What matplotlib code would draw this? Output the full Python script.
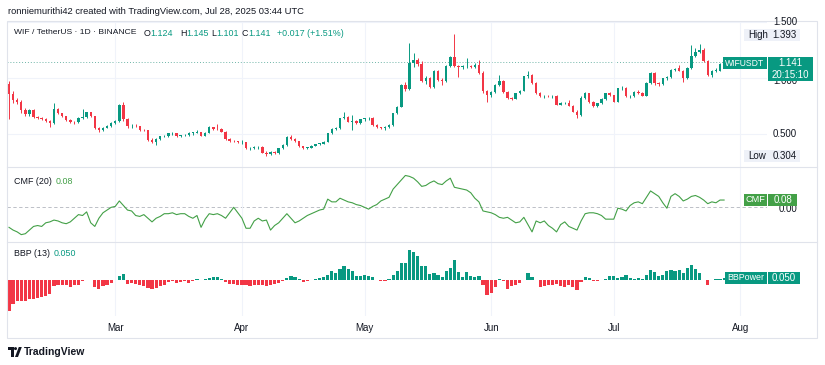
import numpy as np
import pandas as pd
import matplotlib
matplotlib.use("Agg")
import matplotlib.pyplot as plt
import matplotlib.dates as mdates
from matplotlib.patches import Rectangle, Circle, Polygon
from matplotlib.lines import Line2D

# ---- data ----
dates = pd.date_range("2025-02-03", "2025-07-28", freq="D")

opens = [
    0.95, 0.86, 0.80, 0.79, 0.71, 0.675, 0.714, 0.648, 0.64, 0.635, 0.615, 0.597, 0.72, 0.685, 0.66, 0.628,
    0.61, 0.603, 0.645, 0.65, 0.695, 0.66, 0.55, 0.537, 0.555, 0.575, 0.60, 0.615, 0.755, 0.63, 0.57, 0.575,
    0.568, 0.536, 0.535, 0.446, 0.43, 0.458, 0.478, 0.48, 0.505, 0.506, 0.478, 0.488, 0.495, 0.51, 0.512, 0.515,
    0.485, 0.512, 0.559, 0.548, 0.542, 0.521, 0.455, 0.437, 0.435, 0.425, 0.428, 0.372, 0.378, 0.38, 0.387, 0.333,
    0.321, 0.338, 0.33, 0.372, 0.402, 0.47, 0.458, 0.437, 0.39, 0.375, 0.378, 0.396, 0.412, 0.415, 0.43, 0.506,
    0.542, 0.553, 0.64, 0.655, 0.61, 0.615, 0.595, 0.63, 0.64, 0.645, 0.58, 0.56, 0.555, 0.565, 0.58, 0.685,
    0.745, 0.935, 0.90, 1.135, 1.165, 1.125, 0.975, 1.0, 0.92, 1.06, 0.985, 0.97, 1.107, 1.19, 1.107, 1.10,
    1.105, 1.11, 1.10, 1.113, 1.045, 0.881, 0.851, 0.875, 0.94, 0.97, 0.875, 0.821, 0.815, 0.866, 0.887, 1.015,
    1.03, 0.955, 0.866, 0.836, 0.84, 0.835, 0.838, 0.762, 0.775, 0.78, 0.753, 0.70, 0.67, 0.825, 0.863, 0.789,
    0.752, 0.774, 0.813, 0.863, 0.845, 0.79, 0.908, 0.91, 0.835, 0.839, 0.878, 0.87, 0.84, 0.952, 1.042, 0.952,
    0.943, 0.997, 1.012, 1.071, 1.086, 1.063, 0.997, 1.086, 1.199, 1.235, 1.25, 1.152, 1.027, 1.063, 1.065, 1.124,
]
highs = [
    0.97, 0.88, 0.82, 0.80, 0.73, 0.72, 0.72, 0.66, 0.65, 0.64, 0.625, 0.78, 0.73, 0.69, 0.665, 0.635,
    0.62, 0.65, 0.72, 0.70, 0.70, 0.665, 0.56, 0.56, 0.58, 0.605, 0.625, 0.77, 0.79, 0.64, 0.59, 0.585,
    0.575, 0.545, 0.54, 0.46, 0.465, 0.485, 0.49, 0.51, 0.515, 0.51, 0.495, 0.50, 0.515, 0.52, 0.536, 0.52,
    0.515, 0.571, 0.565, 0.59, 0.55, 0.525, 0.46, 0.445, 0.44, 0.45, 0.43, 0.385, 0.39, 0.395, 0.39, 0.345,
    0.345, 0.35, 0.375, 0.41, 0.48, 0.49, 0.465, 0.44, 0.395, 0.385, 0.40, 0.415, 0.42, 0.435, 0.51, 0.55,
    0.56, 0.645, 0.70, 0.66, 0.67, 0.625, 0.635, 0.645, 0.65, 0.655, 0.59, 0.565, 0.57, 0.59, 0.69, 0.75,
    0.95, 0.96, 1.31, 1.22, 1.18, 1.15, 1.02, 1.01, 1.07, 1.075, 1.0, 1.12, 1.20, 1.393, 1.12, 1.12,
    1.18, 1.12, 1.13, 1.16, 1.06, 0.89, 0.88, 0.95, 1.03, 0.98, 0.88, 0.83, 0.87, 0.89, 1.02, 1.065,
    1.04, 0.96, 0.875, 0.85, 0.85, 0.845, 0.845, 0.785, 0.79, 0.80, 0.76, 0.71, 0.835, 0.875, 0.87, 0.795,
    0.78, 0.82, 0.87, 0.875, 0.85, 0.915, 0.925, 0.92, 0.85, 0.885, 0.89, 0.875, 0.96, 1.055, 1.05, 0.965,
    1.0, 1.02, 1.08, 1.09, 1.12, 1.07, 1.10, 1.295, 1.27, 1.30, 1.265, 1.16, 1.075, 1.085, 1.13, 1.145,
]
lows = [
    0.63, 0.78, 0.77, 0.69, 0.66, 0.66, 0.64, 0.63, 0.625, 0.61, 0.565, 0.59, 0.68, 0.65, 0.62, 0.60,
    0.59, 0.60, 0.635, 0.645, 0.65, 0.545, 0.52, 0.53, 0.55, 0.565, 0.59, 0.61, 0.62, 0.555, 0.555, 0.56,
    0.53, 0.525, 0.44, 0.42, 0.40, 0.45, 0.47, 0.475, 0.495, 0.47, 0.47, 0.48, 0.485, 0.495, 0.505, 0.48,
    0.48, 0.505, 0.54, 0.535, 0.515, 0.45, 0.43, 0.425, 0.42, 0.415, 0.365, 0.36, 0.37, 0.37, 0.33, 0.304,
    0.315, 0.325, 0.325, 0.365, 0.395, 0.45, 0.43, 0.385, 0.37, 0.365, 0.372, 0.39, 0.405, 0.41, 0.425, 0.50,
    0.535, 0.545, 0.63, 0.605, 0.54, 0.59, 0.59, 0.62, 0.625, 0.575, 0.555, 0.545, 0.535, 0.555, 0.575, 0.68,
    0.74, 0.88, 0.89, 1.10, 1.11, 0.96, 0.95, 0.91, 0.915, 0.97, 0.94, 0.96, 1.10, 1.10, 1.01, 1.08,
    1.09, 1.09, 1.09, 1.04, 0.87, 0.79, 0.83, 0.87, 0.93, 0.87, 0.81, 0.80, 0.81, 0.855, 0.88, 1.0,
    0.95, 0.86, 0.83, 0.825, 0.83, 0.825, 0.755, 0.755, 0.765, 0.75, 0.695, 0.645, 0.665, 0.815, 0.78, 0.745,
    0.745, 0.77, 0.805, 0.835, 0.785, 0.785, 0.895, 0.83, 0.825, 0.83, 0.86, 0.835, 0.835, 0.945, 0.94, 0.925,
    0.935, 0.985, 1.0, 1.06, 1.06, 0.967, 0.99, 1.08, 1.19, 1.22, 1.14, 1.02, 1.01, 1.05, 1.06, 1.101,
]
closes = [
    0.86, 0.80, 0.79, 0.71, 0.675, 0.714, 0.648, 0.64, 0.635, 0.615, 0.597, 0.72, 0.685, 0.66, 0.628, 0.61,
    0.603, 0.645, 0.65, 0.695, 0.66, 0.55, 0.537, 0.555, 0.575, 0.60, 0.615, 0.755, 0.63, 0.57, 0.575, 0.568,
    0.536, 0.535, 0.446, 0.43, 0.458, 0.478, 0.48, 0.505, 0.506, 0.478, 0.488, 0.495, 0.51, 0.512, 0.515, 0.485,
    0.512, 0.559, 0.548, 0.542, 0.521, 0.455, 0.437, 0.435, 0.425, 0.428, 0.372, 0.378, 0.38, 0.387, 0.333, 0.321,
    0.338, 0.33, 0.372, 0.402, 0.47, 0.458, 0.437, 0.39, 0.375, 0.378, 0.396, 0.412, 0.415, 0.43, 0.506, 0.542,
    0.553, 0.64, 0.655, 0.61, 0.615, 0.595, 0.63, 0.64, 0.645, 0.58, 0.56, 0.555, 0.565, 0.58, 0.685, 0.745,
    0.935, 0.90, 1.135, 1.165, 1.125, 0.975, 1.0, 0.92, 1.06, 0.985, 0.97, 1.107, 1.19, 1.107, 1.10, 1.105,
    1.11, 1.10, 1.113, 1.045, 0.881, 0.851, 0.875, 0.94, 0.97, 0.875, 0.821, 0.815, 0.866, 0.887, 1.015, 1.03,
    0.955, 0.866, 0.836, 0.84, 0.835, 0.838, 0.762, 0.775, 0.78, 0.753, 0.70, 0.67, 0.825, 0.863, 0.789, 0.752,
    0.774, 0.813, 0.863, 0.845, 0.79, 0.908, 0.91, 0.835, 0.839, 0.878, 0.87, 0.84, 0.952, 1.042, 0.952, 0.943,
    0.997, 1.012, 1.071, 1.075, 1.063, 0.997, 1.086, 1.199, 1.235, 1.25, 1.152, 1.027, 1.063, 1.065, 1.124, 1.141,
]

cmf = [
    -0.22, -0.25, -0.27, -0.30, -0.29, -0.25, -0.21, -0.20, -0.21, -0.17, -0.16, -0.14, -0.15, -0.17, -0.18, -0.16,
    -0.12, -0.08, -0.09, -0.05, -0.17, -0.21, -0.12, -0.06, -0.03, 0.0, 0.01, 0.07, 0.02, -0.03, -0.04, -0.09,
    -0.10, -0.08, -0.12, -0.16, -0.12, -0.10, -0.07, -0.07, -0.06, -0.08, -0.07, -0.07, -0.10, -0.12, -0.09, -0.22,
    -0.13, -0.07, -0.08, -0.07, -0.09, -0.12, -0.06, 0.0, -0.06, -0.12, -0.23, -0.23, -0.15, -0.12, -0.15, -0.14,
    -0.25, -0.20, -0.17, -0.12, -0.07, -0.12, -0.17, -0.15, -0.12, -0.09, -0.07, -0.05, -0.03, -0.02, 0.09, 0.06,
    0.06, 0.10, 0.08, 0.06, 0.05, 0.03, 0.02, 0.0, -0.02, 0.01, 0.03, 0.07, 0.09, 0.11, 0.20, 0.25,
    0.30, 0.35, 0.34, 0.32, 0.28, 0.23, 0.24, 0.27, 0.29, 0.26, 0.25, 0.29, 0.32, 0.22, 0.21, 0.20,
    0.19, 0.16, 0.10, 0.06, -0.04, -0.05, -0.06, -0.08, -0.11, -0.12, -0.11, -0.14, -0.17, -0.16, -0.11, -0.19,
    -0.27, -0.15, -0.17, -0.15, -0.20, -0.23, -0.27, -0.19, -0.16, -0.21, -0.23, -0.25, -0.15, -0.07, -0.06, -0.06,
    -0.07, -0.09, -0.13, -0.13, -0.13, -0.01, -0.02, -0.04, 0.02, 0.05, 0.06, 0.04, 0.11, 0.18, 0.15, 0.12,
    0.05, -0.01, 0.12, 0.15, 0.12, 0.07, 0.09, 0.12, 0.13, 0.11, 0.08, 0.04, 0.06, 0.05, 0.08, 0.08,
]

bbp = [
    -0.79, -0.60, -0.54, -0.525, -0.525, -0.49, -0.475, -0.46, -0.43, -0.42, -0.35, -0.17, -0.125, -0.125, -0.14, -0.18,
    -0.14, -0.14, -0.03, -0.015, -0.02, -0.18, -0.24, -0.16, -0.125, -0.075, -0.01, 0.09, 0.13, -0.10, -0.075, -0.10,
    -0.125, -0.16, -0.21, -0.225, -0.21, -0.16, -0.125, -0.06, -0.04, -0.075, -0.06, -0.04, -0.075, -0.035, 0.01, -0.01,
    0.01, 0.05, 0.065, 0.06, 0.025, -0.06, -0.10, -0.115, -0.125, -0.125, -0.14, -0.16, -0.14, -0.125, -0.14, -0.16,
    -0.14, -0.10, -0.075, -0.04, 0.04, 0.09, 0.075, 0.025, -0.06, -0.04, -0.01, 0.025, 0.04, 0.065, 0.125, 0.21,
    0.175, 0.26, 0.33, 0.275, 0.21, 0.085, 0.09, 0.125, 0.09, 0.065, -0.015, -0.04, -0.025, 0.005, 0.11, 0.21,
    0.415, 0.425, 0.73, 0.68, 0.59, 0.33, 0.33, 0.15, 0.175, 0.125, 0.065, 0.21, 0.29, 0.48, 0.19, 0.065,
    0.19, 0.09, 0.065, 0.09, -0.14, -0.375, -0.325, -0.18, 0.01, -0.035, -0.225, -0.16, -0.125, -0.075, -0.015, 0.175,
    0.065, -0.015, -0.18, -0.16, -0.14, -0.14, -0.115, -0.16, -0.18, -0.14, -0.18, -0.265, -0.06, 0.065, 0.04, -0.035,
    -0.035, 0.0, 0.01, 0.085, 0.085, 0.04, 0.065, 0.125, 0.04, 0.025, 0.03, 0.025, 0.11, 0.235, 0.19, 0.09,
    0.125, 0.21, 0.235, 0.21, 0.235, 0.175, 0.29, 0.375, 0.275, 0.175, 0.0, -0.125, -0.01, 0.015, 0.02, 0.05,
]

# ---- style ----
W, H = 825, 365
UP = "#089981"
DOWN = "#f23645"
CMF_COL = "#43a047"
TEXT = "#131722"
GRID = "#f0f3fa"
BORDER = "#e0e3eb"

plt.rcParams["font.family"] = ["Liberation Sans", "DejaVu Sans"]

fig = plt.figure(figsize=(W / 100, H / 100), dpi=100)
fig.patch.set_facecolor("white")


def rect_px(x0, y0, x1, y1):
    return [x0 / W, 1 - y1 / H, (x1 - x0) / W, (y1 - y0) / H]


def ftext(x, y, s, **kw):
    kw.setdefault("va", "center")
    kw.setdefault("color", TEXT)
    kw.setdefault("fontsize", 7)
    return fig.text(x / W, 1 - y / H, s, **kw)


def fbox(x0, y0, x1, y1, color, z=5):
    fig.add_artist(Rectangle((x0 / W, 1 - y1 / H), (x1 - x0) / W, (y1 - y0) / H,
                             transform=fig.transFigure, facecolor=color, edgecolor="none", zorder=z))


ax_p = fig.add_axes(rect_px(7, 21, 767, 167))
ax_c = fig.add_axes(rect_px(7, 167, 767, 242))
ax_b = fig.add_axes(rect_px(7, 242, 767, 316))

x = mdates.date2num(dates)
o, h, l, c = map(np.array, (opens, highs, lows, closes))
cols = np.where(c >= o, UP, DOWN)

for ax in (ax_p, ax_c, ax_b):
    ax.set_facecolor("none")
    for s in ax.spines.values():
        s.set_visible(False)
    ax.xaxis.set_major_locator(mdates.MonthLocator())
    ax.grid(axis="x", color=GRID, lw=0.8, zorder=0)
    ax.tick_params(length=0, labelleft=False, labelbottom=False)
    ax.set_xlim(x[0] - 0.49, x[0] + 185.5)
    ax.set_yticks([])

# price pane
ax_p.set_ylim(0.2054, 1.509)
ax_p.set_yticks([0.5, 1.0, 1.5])
ax_p.grid(axis="y", color=GRID, lw=0.8, zorder=0)
ax_p.tick_params(labelleft=False)
ax_p.vlines(x, l, h, colors=cols, lw=0.7, zorder=2)
ax_p.bar(x, np.maximum(np.abs(c - o), 0.005), bottom=np.minimum(o, c), width=0.6,
         color=cols, lw=0, zorder=3)
ax_p.axhline(closes[-1], color="#6fb5a8", ls=(0, (1, 2)), lw=0.7, zorder=1)

# CMF pane
ax_c.set_ylim(-0.381, 0.443)
ax_c.axhline(0, color="#b2b5be", ls=(0, (4, 3)), lw=0.6, zorder=1)
ax_c.plot(x, cmf, color=CMF_COL, lw=0.8, zorder=3)

# BBP pane
bb = np.array(bbp)
ax_b.set_ylim(-0.9125, 0.9375)
ax_b.bar(x, bb, width=0.78, color=np.where(bb >= 0, UP, DOWN), lw=0, zorder=3)
ax_b.xaxis.set_major_formatter(mdates.DateFormatter("%b"))
ax_b.tick_params(labelbottom=True, labelsize=7, pad=5, labelcolor=TEXT)

# frame and separators
fig.add_artist(Rectangle((7 / W, 1 - 338 / H), 810 / W, 317 / H, transform=fig.transFigure,
                         fill=False, edgecolor=BORDER, lw=0.8))
for yy in (167, 242):
    fig.add_artist(Line2D([7 / W, 817 / W], [1 - yy / H] * 2, transform=fig.transFigure,
                          color=BORDER, lw=0.8))

# header texts
ftext(8, 12, "ronniemurithi42 created with TradingView.com, Jul 28, 2025 03:44 UTC", fontsize=6.75)
LEG = 6.4
ftext(14, 33, "WIF / TetherUS · 1D · BINANCE", fontsize=6.1)
for lx, lab, vx, val in [(144, "O", 150, "1.124"), (180, "H", 186, "1.145"),
                         (211, "L", 216, "1.101"), (242, "C", 248, "1.141")]:
    ftext(lx, 33, lab, fontsize=LEG)
    ftext(vx, 33, val, fontsize=LEG, color=UP)
ftext(277, 33, "+0.017 (+1.51%)", fontsize=LEG, color=UP)

ftext(14, 181, "CMF (20)", fontsize=LEG)
ftext(56, 181, "0.08", fontsize=LEG, color=CMF_COL)
ftext(14, 254, "BBP (13)", fontsize=LEG)
ftext(54, 254, "0.050", fontsize=LEG, color=UP)

# price scale labels
ftext(797, 22, "1.500", ha="right")
ftext(797, 81, "1.000", ha="right")
ftext(797, 134, "0.500", ha="right")
ftext(797, 209, "0.00", ha="right")

# high / low boxes
for yy, lab, val in [(35, "High", "1.393"), (156, "Low", "0.304")]:
    fbox(744, yy - 6, 800, yy + 6, "#eef1f8")
    ftext(748, yy, lab, zorder=6)
    ftext(797, yy, val, ha="right", zorder=6)

# last value boxes
fbox(723, 57, 767, 69, UP)
ftext(745, 63, "WIFUSDT", ha="center", color="white", zorder=6, fontsize=6.2)
fbox(768, 57, 813, 81, UP)
ftext(790, 63, "1.141", ha="center", color="white", zorder=6)
ftext(790, 74.5, "20:15:10", ha="center", color="white", zorder=6)

fbox(744, 194, 767, 206, CMF_COL)
ftext(755.5, 200, "CMF", ha="center", color="white", zorder=6, fontsize=6.6)
fbox(768, 194, 797, 206, CMF_COL)
ftext(782.5, 200, "0.08", ha="center", color="white", zorder=6)

fbox(725, 272, 767, 284, UP)
ftext(746, 278, "BBPower", ha="center", color="white", zorder=6, fontsize=6.4)
fbox(768, 272, 800, 284, UP)
ftext(784, 278, "0.050", ha="center", color="white", zorder=6)

# TradingView logo
ax_l = fig.add_axes(rect_px(6, 344, 24, 360))
ax_l.set_xlim(6, 24)
ax_l.set_ylim(360, 344)
ax_l.axis("off")
ax_l.add_patch(Polygon([(8, 347), (13.5, 347), (13.5, 357), (10.5, 357), (10.5, 350), (8, 350)],
                       closed=True, color=TEXT, lw=0))
ax_l.add_patch(Circle((15.5, 348.6), 1.5, color=TEXT, lw=0))
ax_l.add_patch(Polygon([(15, 357), (18.8, 347), (21.8, 347), (18, 357)], closed=True, color=TEXT, lw=0))
ftext(24, 352, "TradingView", fontsize=7.5, fontweight="bold")

fig.savefig("out.png", dpi=100, facecolor="white")
